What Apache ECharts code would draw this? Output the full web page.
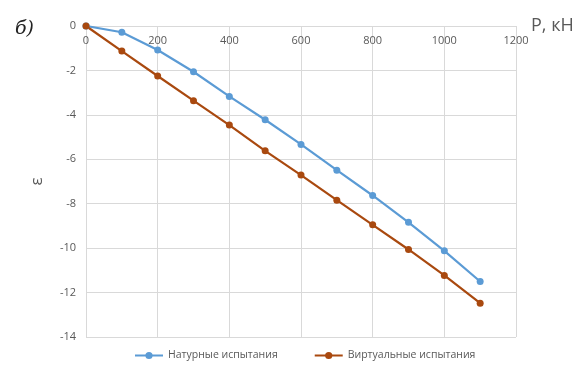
<!DOCTYPE html>
<html>
<head>
<meta charset="utf-8">
<script src="https://cdn.jsdelivr.net/npm/echarts@6/dist/echarts.min.js"></script>
<style>html,body{margin:0;padding:0;background:#fff;}#c{width:579px;height:365px;}</style>
</head>
<body>
<div id="c"></div>
<script>
var loads = [0, 100, 200, 300, 400, 500, 600, 700, 800, 900, 1000, 1100];
var naturalSeries = [0, -0.28, -1.08, -2.06, -3.17, -4.22, -5.33, -6.49, -7.63, -8.84, -10.12, -11.5];
var virtualSeries = [0, -1.13, -2.25, -3.36, -4.46, -5.62, -6.71, -7.84, -8.95, -10.06, -11.23, -12.48];
var seriesNames = ['Натурные испытания', 'Виртуальные испытания'];
var xTicks = {min: 0, max: 1200, interval: 200};
var yTicks = {min: -14, max: 0, interval: 2};

function pairs(xs, ys) { return xs.map(function (x, i) { return [x, ys[i]]; }); }

var chart = echarts.init(document.getElementById('c'));
var font = '"Open Sans", "Noto Sans", sans-serif';
chart.setOption({
  animation: false,
  backgroundColor: '#fff',
  grid: {left: 86, right: 63, top: 26, bottom: 28},
  legend: {
    bottom: -1, left: 129, itemGap: 36, itemWidth: 28, itemHeight: 9,
    textStyle: {fontFamily: font, fontSize: 10.5, color: '#595959'},
    data: seriesNames
  },
  graphic: [
    {type: 'text', left: 15, top: 20, style: {text: 'б)', font: 'italic 19px "DejaVu Serif", "Liberation Serif", serif', fill: '#222'}},
    {type: 'text', left: 531, top: 17, style: {text: 'P, кН', font: '18px "Open Sans", "Noto Sans", sans-serif', fill: '#595959'}}
  ],
  xAxis: {
    type: 'value', position: 'top', min: xTicks.min, max: xTicks.max, interval: xTicks.interval,
    axisLine: {show: true, onZero: false, lineStyle: {color: '#d9d9d9'}},
    axisTick: {show: false},
    axisLabel: {inside: true, margin: 9, fontFamily: font, fontSize: 11, color: '#595959',
      formatter: function (v) { return String(v); }},
    splitLine: {show: true, lineStyle: {color: '#d9d9d9'}}
  },
  yAxis: {
    type: 'value', min: yTicks.min, max: yTicks.max, interval: yTicks.interval,
    name: 'ε', nameLocation: 'middle', nameRotate: 90, nameGap: 40,
    nameTextStyle: {fontFamily: font, fontSize: 17, color: '#595959'},
    axisLine: {show: true, lineStyle: {color: '#d9d9d9'}},
    axisTick: {show: false},
    axisLabel: {margin: 10, fontFamily: font, fontSize: 11, color: '#595959'},
    splitLine: {show: true, lineStyle: {color: '#d9d9d9'}}
  },
  series: [
    {name: seriesNames[0], type: 'line', data: pairs(loads, naturalSeries), symbol: 'circle', symbolSize: 7,
     itemStyle: {color: '#5b9bd5'}, lineStyle: {color: '#5b9bd5', width: 2.2}},
    {name: seriesNames[1], type: 'line', data: pairs(loads, virtualSeries), symbol: 'circle', symbolSize: 7,
     itemStyle: {color: '#a9490f'}, lineStyle: {color: '#a9490f', width: 2.2}}
  ]
});
</script>
</body>
</html>
